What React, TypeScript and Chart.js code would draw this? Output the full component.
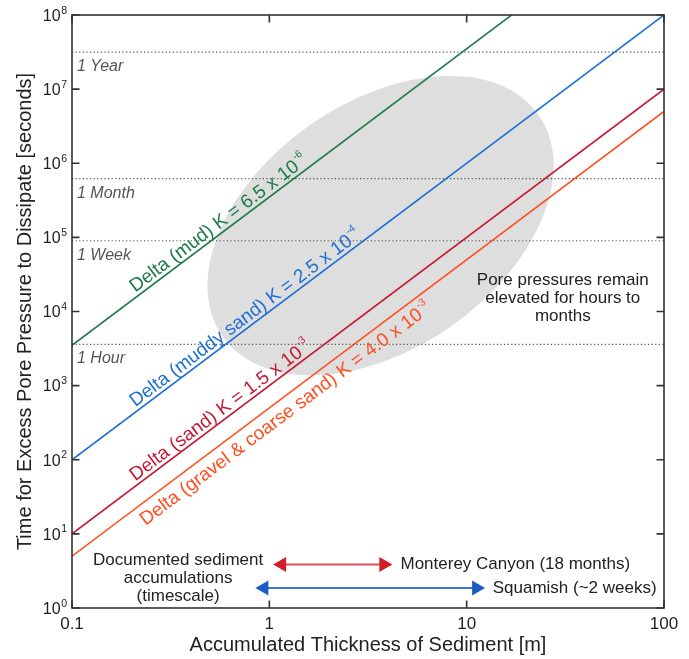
import React, { useEffect, useRef } from 'react';
import { Chart, registerables } from 'chart.js';

Chart.register(...registerables);

const FONT = "'Liberation Sans', Arial, Helvetica, sans-serif";

// ---- data ----
const xTicks = [0.1, 1, 10, 100];
const yTicks = [1, 10, 100, 1e3, 1e4, 1e5, 1e6, 1e7, 1e8];
const yTickExponents = ['0', '1', '2', '3', '4', '5', '6', '7', '8'];

const seriesLabels = [
  'Delta (mud) K = 6.5 x 10',
  'Delta (muddy sand) K = 2.5 x 10',
  'Delta (sand) K = 1.5 x 10',
  'Delta (gravel & coarse sand) K = 4.0 x 10',
];
const seriesLabelExponents = ['-6', '-4', '-3', '-3'];
const seriesThickness = [0.1, 100];
const mudTimes = [3500, 3.5e9];
const muddySandTimes = [100, 1e8];
const sandTimes = [10, 1e7];
const gravelTimes = [5, 5e6];
const seriesTimes = [mudTimes, muddySandTimes, sandTimes, gravelTimes];

const timescaleLabels = ['1 Year', '1 Month', '1 Week', '1 Hour'];
const timescaleValues = [3.15e7, 6.2e5, 9e4, 3.6e3];

const rangeLabels = ['Monterey Canyon (18 months)', 'Squamish (~2 weeks)'];
const rangeFrom = [1.045, 0.85];
const rangeTo = [4.2, 12.4];
const rangeLevel = [3.85, 1.86];

const noteLines = ['Pore pressures remain', 'elevated for hours to', 'months'];
const docLines = ['Documented sediment', 'accumulations', '(timescale)'];

// ---- styles / placement ----
const seriesColors = ['#1d7a47', '#1f6fd1', '#c41a33', '#ff4f1f'];
const labelStartX = [0.215, 0.215, 0.215, 0.205];
const labelOffset = [-4, -4, -4, 20];
const rangeShaftColors = ['#e05258', '#3a78d2'];
const rangeHeadColors = ['#d01f2a', '#1a5cc4'];
const ellipseCenter = { x: 3.66, y: 1.44e5 };
const notePos = { x: 30.7, y: 2.28e4 };
const docPos = { x: 0.345, y: 3.8 };
const rangeTextX = [4.62, 13.55];

const annotationPlugin = {
  id: 'annotations',
  beforeDatasetsDraw(chart: any) {
    const { ctx, chartArea, scales } = chart;
    const x = scales.x, y = scales.y;
    ctx.save();
    ctx.beginPath();
    ctx.rect(chartArea.left, chartArea.top, chartArea.right - chartArea.left, chartArea.bottom - chartArea.top);
    ctx.clip();
    ctx.fillStyle = '#dedede';
    ctx.beginPath();
    ctx.ellipse(x.getPixelForValue(ellipseCenter.x), y.getPixelForValue(ellipseCenter.y), 193, 123, (-35 * Math.PI) / 180, 0, Math.PI * 2);
    ctx.fill();
    ctx.restore();
  },
  afterDatasetsDraw(chart: any) {
    const { ctx, chartArea, scales } = chart;
    const x = scales.x, y = scales.y;
    ctx.save();

    // timescale labels
    ctx.font = `italic 16px ${FONT}`;
    ctx.fillStyle = '#555';
    ctx.textAlign = 'left';
    ctx.textBaseline = 'alphabetic';
    timescaleLabels.forEach((t, i) => {
      ctx.fillText(t, chartArea.left + 5, y.getPixelForValue(timescaleValues[i]) + 19);
    });

    // series labels along lines
    seriesLabels.forEach((lab, i) => {
      const times = seriesTimes[i];
      const p0x = x.getPixelForValue(seriesThickness[0]);
      const p0y = y.getPixelForValue(times[0]);
      const p1x = x.getPixelForValue(seriesThickness[1]);
      const p1y = y.getPixelForValue(times[1]);
      const ang = Math.atan2(p1y - p0y, p1x - p0x);
      const sx = x.getPixelForValue(labelStartX[i]);
      const t = (sx - p0x) / (p1x - p0x);
      const sy = p0y + t * (p1y - p0y);
      ctx.save();
      ctx.translate(sx, sy);
      ctx.rotate(ang);
      const off = labelOffset[i];
      ctx.fillStyle = seriesColors[i];
      ctx.font = `19px ${FONT}`;
      ctx.textAlign = 'left';
      ctx.textBaseline = 'alphabetic';
      ctx.fillText(lab, 0, off);
      const w = ctx.measureText(lab).width;
      ctx.font = `10.5px ${FONT}`;
      ctx.fillText(seriesLabelExponents[i], w + 1, off - 9.5);
      ctx.restore();
    });

    // range arrows
    rangeLabels.forEach((lab, i) => {
      const xa = x.getPixelForValue(rangeFrom[i]);
      const xb = x.getPixelForValue(rangeTo[i]);
      const yy = y.getPixelForValue(rangeLevel[i]);
      const hl = 13, hw = 7.5;
      ctx.strokeStyle = rangeShaftColors[i];
      ctx.lineWidth = 2;
      ctx.beginPath();
      ctx.moveTo(xa + hl - 1, yy);
      ctx.lineTo(xb - hl + 1, yy);
      ctx.stroke();
      ctx.fillStyle = rangeHeadColors[i];
      ctx.beginPath();
      ctx.moveTo(xa, yy);
      ctx.lineTo(xa + hl, yy - hw);
      ctx.lineTo(xa + hl, yy + hw);
      ctx.closePath();
      ctx.fill();
      ctx.beginPath();
      ctx.moveTo(xb, yy);
      ctx.lineTo(xb - hl, yy - hw);
      ctx.lineTo(xb - hl, yy + hw);
      ctx.closePath();
      ctx.fill();
      ctx.fillStyle = '#222';
      ctx.font = `17px ${FONT}`;
      ctx.textAlign = 'left';
      ctx.textBaseline = 'middle';
      ctx.fillText(lab, x.getPixelForValue(rangeTextX[i]), yy);
    });

    // notes
    ctx.fillStyle = '#222';
    ctx.font = `17px ${FONT}`;
    ctx.textAlign = 'center';
    ctx.textBaseline = 'alphabetic';
    noteLines.forEach((l, i) => {
      ctx.fillText(l, x.getPixelForValue(notePos.x), y.getPixelForValue(notePos.y) + i * 18);
    });
    docLines.forEach((l, i) => {
      ctx.fillText(l, x.getPixelForValue(docPos.x), y.getPixelForValue(docPos.y) + i * 18);
    });
    ctx.restore();
  },
  afterDraw(chart: any) {
    const { ctx, chartArea, scales } = chart;
    const x = scales.x, y = scales.y;
    const { left, right, top, bottom } = chartArea;
    ctx.save();
    ctx.strokeStyle = '#333';
    ctx.lineWidth = 1.6;
    ctx.strokeRect(left, top, right - left, bottom - top);
    const tl = 7.5;
    ctx.beginPath();
    yTicks.forEach((v) => {
      const py = y.getPixelForValue(v);
      ctx.moveTo(left, py);
      ctx.lineTo(left + tl, py);
      ctx.moveTo(right, py);
      ctx.lineTo(right - tl, py);
    });
    xTicks.forEach((v) => {
      const px = x.getPixelForValue(v);
      ctx.moveTo(px, bottom);
      ctx.lineTo(px, bottom - tl);
      ctx.moveTo(px, top);
      ctx.lineTo(px, top + tl);
    });
    ctx.stroke();

    // y tick labels with superscripts
    ctx.fillStyle = '#222';
    ctx.textAlign = 'right';
    ctx.textBaseline = 'alphabetic';
    yTicks.forEach((v, i) => {
      const py = y.getPixelForValue(v);
      const rx = left - 5;
      ctx.font = `10.5px ${FONT}`;
      const ew = ctx.measureText(yTickExponents[i]).width;
      ctx.fillText(yTickExponents[i], rx, py - 1.5);
      ctx.font = `16px ${FONT}`;
      ctx.fillText('10', rx - ew - 0.5, py + 5.8);
    });
    ctx.restore();
  },
};

export default function App() {
  const ref = useRef<HTMLCanvasElement | null>(null);
  useEffect(() => {
    if (!ref.current) return;
    const datasets: any[] = [
      ...timescaleValues.map((v) => ({
        data: seriesThickness.map((t) => ({ x: t, y: v })),
        borderColor: '#555',
        borderWidth: 1.2,
        borderDash: [1.2, 2.4],
        pointRadius: 0,
      })),
      ...seriesTimes.map((times, i) => ({
        data: seriesThickness.map((t, j) => ({ x: t, y: times[j] })),
        borderColor: seriesColors[i],
        borderWidth: 1.6,
        pointRadius: 0,
      })),
    ];
    const chart = new Chart(ref.current, {
      type: 'line',
      data: { datasets },
      options: {
        animation: false,
        responsive: false,
        events: [],
        layout: { padding: { left: 0, right: 25, top: 15, bottom: 0 } },
        plugins: { legend: { display: false }, tooltip: { enabled: false } },
        scales: {
          x: {
            type: 'logarithmic',
            min: 0.1,
            max: 100,
            grid: { display: false, drawTicks: false },
            border: { display: false },
            afterBuildTicks: (s: any) => {
              s.ticks = xTicks.map((v) => ({ value: v }));
            },
            afterFit: (s: any) => {
              s.height = 51;
            },
            ticks: {
              autoSkip: false,
              maxRotation: 0,
              padding: 6,
              color: '#222',
              font: { family: FONT, size: 17 },
              callback: (v: any) => String(v),
            },
            title: {
              display: true,
              text: 'Accumulated Thickness of Sediment [m]',
              color: '#222',
              font: { family: FONT, size: 20 },
              padding: { top: 0, bottom: 2 },
            },
          },
          y: {
            type: 'logarithmic',
            min: 1,
            max: 1e8,
            grid: { display: false, drawTicks: false },
            border: { display: false },
            afterBuildTicks: (s: any) => {
              s.ticks = yTicks.map((v) => ({ value: v }));
            },
            afterFit: (s: any) => {
              s.width = 72;
            },
            ticks: { display: false },
            title: {
              display: true,
              text: 'Time for Excess Pore Pressure to Dissipate [seconds]',
              color: '#222',
              font: { family: FONT, size: 20 },
              padding: { top: 13, bottom: 0 },
            },
          },
        },
      },
      plugins: [annotationPlugin],
    } as any);
    return () => chart.destroy();
  }, []);
  return (
    <div style={{ position: 'absolute', left: 0, top: 0, width: 689, height: 659, background: '#fff' }}>
      <canvas ref={ref} width={689} height={659} style={{ display: 'block', width: 689, height: 659 }} />
    </div>
  );
}
